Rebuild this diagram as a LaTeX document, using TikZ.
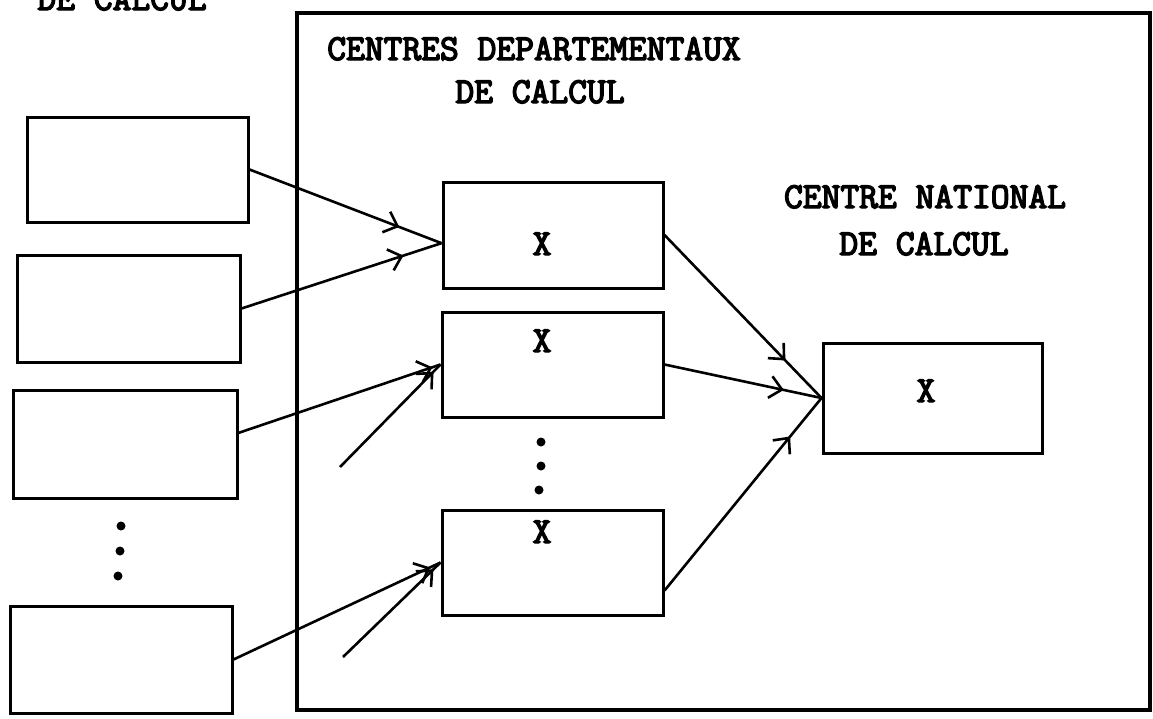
\documentclass[tikz,border=0pt]{standalone}
\usepackage{fontspec}
\setmonofont{Latin Modern Mono}[AutoFakeBold=4]
\usetikzlibrary{arrows.meta,calc,decorations.markings}
\tikzset{
  box/.style={draw, line width=3pt, inner sep=0pt, rectangle},
  conn/.style={line width=2.6pt},
  lbl/.style={font=\ttfamily\bfseries\fontsize{36.5}{40}\selectfont, inner sep=0pt, anchor=base},
  arrowat/.style={postaction={decorate},
    decoration={markings, mark=at position #1 with {\arrow[line width=2.6pt]{Straight Barb[length=12pt,width=22pt]}}}},
  dotmark/.style={fill=black, circle, inner sep=0pt, minimum size=9pt}
}
\begin{document}
\begin{tikzpicture}[x=1pt,y=-1pt]
\useasboundingbox (0,0) rectangle (1153,718);
\clip (0,0) rectangle (1153,718);
\fill[white] (0,0) rectangle (1153,718);

% big frame
\node[box, line width=3.2pt, minimum width=853pt, minimum height=697pt] (dep) at (723.5,361.5) {};

% texts
\node[lbl] (t0) at (122,10) {DE CALCUL};
\node[lbl] (t1) at (534,60) {CENTRES DEPARTEMENTAUX};
\node[lbl] (t2) at (540,103) {DE CALCUL};
\node[lbl] (t3) at (925,208) {CENTRE NATIONAL};
\node[lbl] (t4) at (924,255) {DE CALCUL};

% left boxes
\node[box, minimum width=221pt, minimum height=105pt] (b1) at (137.5,169.5) {};
\node[box, minimum width=223pt, minimum height=107pt] (b2) at (128.5,308.5) {};
\node[box, minimum width=224pt, minimum height=108pt] (b3) at (125,444) {};
\node[box, minimum width=222pt, minimum height=107pt] (b4) at (121,659.5) {};
\node[dotmark] (d1) at (121,526) {};
\node[dotmark] (d2) at (120,551) {};
\node[dotmark] (d3) at (118,576) {};

% departmental boxes
\node[box, minimum width=220pt, minimum height=106pt] (A) at (553,235) {};
\node[box, minimum width=221pt, minimum height=105pt] (B) at (552.5,364.5) {};
\node[box, minimum width=221pt, minimum height=105pt] (C) at (552.5,562.5) {};
\node[lbl] (xA) at (542,255) {X};
\node[lbl] (xB) at (542,352) {X};
\node[lbl] (xC) at (542,543) {X};
\node[dotmark] (e1) at (541,442) {};
\node[dotmark] (e2) at (541,466) {};
\node[dotmark] (e3) at (539,490) {};

% national box
\node[box, minimum width=219pt, minimum height=110pt] (N) at (932.5,398) {};
\node[lbl] (xN) at (926,402) {X};

% connection points
\coordinate (Ain) at ($(A.north west)!0.575!(A.south west)$);
\coordinate (Cout) at ($(C.north east)!0.76!(C.south east)$);
\coordinate (b3out) at ($(b3.north east)!0.40!(b3.south east)$);
\coordinate (f1) at (340,467);
\coordinate (f2) at (343,657);

% connectors
\draw[conn, arrowat=0.78] (b1.east) -- (Ain);
\draw[conn, arrowat=0.81] (b2.east) -- (Ain);
\draw[conn, arrowat=0.96] (b3out) -- (B.west);
\draw[conn, arrowat=0.93] (f1) -- (B.west);
\draw[conn, arrowat=0.95] (b4.east) -- (C.west);
\draw[conn, arrowat=0.93] (f2) -- (C.west);
\draw[conn, arrowat=0.77] (A.east) -- (N.west);
\draw[conn, arrowat=0.76] (B.east) -- (N.west);
\draw[conn, arrowat=0.80] (Cout) -- (N.west);
\end{tikzpicture}
\end{document}
